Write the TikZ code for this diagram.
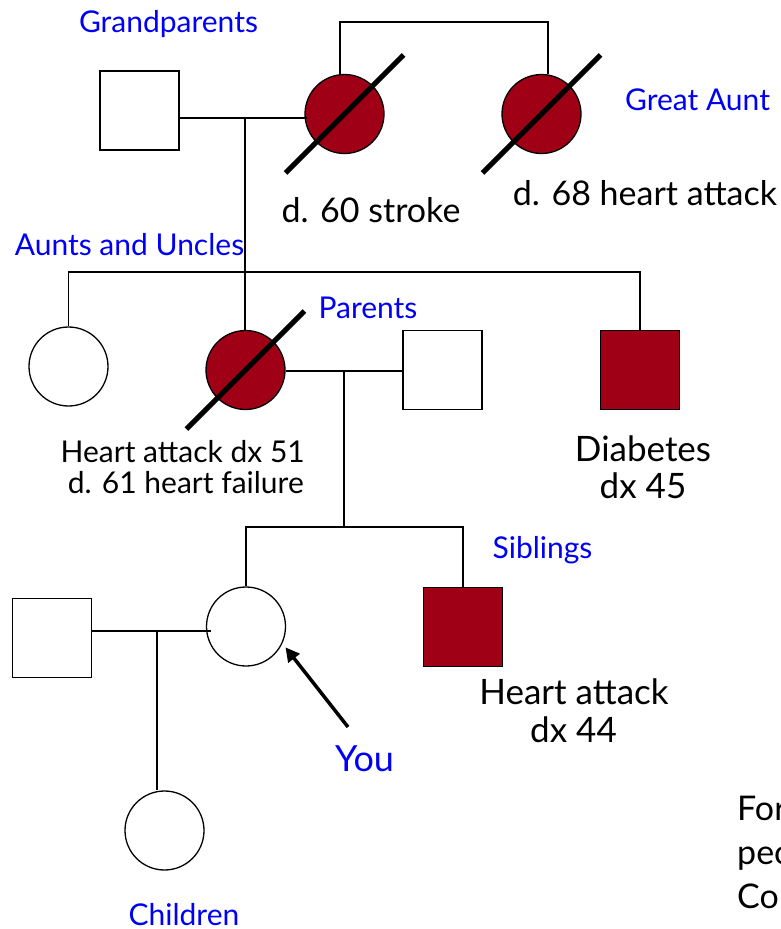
\documentclass[tikz,border=0pt]{standalone}
\usepackage{fontspec}
\setmainfont{Lato}
\usetikzlibrary{arrows.meta}
\definecolor{affected}{RGB}{160,0,22}
\definecolor{tagblue}{RGB}{0,0,245}
\newcommand{\fs}[1]{\fontsize{#1}{#1}\selectfont}
\begin{document}
\begin{tikzpicture}[x=1pt,y=-1pt,
  person/.style={draw=black,line width=1.3pt,inner sep=0pt,minimum size=79pt},
  male/.style={person,rectangle,fill=white},
  female/.style={person,circle,fill=white},
  sick/.style={fill=affected},
  link/.style={draw=black,line width=1.6pt},
  slash/.style={draw=black,line width=5pt},
  tag/.style={text=tagblue,font=\fs{30},anchor=base,inner sep=0pt},
  note/.style={text=black,font=\fs{34},anchor=base,inner sep=0pt},
  smallnote/.style={text=black,font=\fs{30},inner sep=0pt},
  pointer/.style={draw=black,line width=3.5pt,-{Triangle[length=14pt,width=14pt]}}]
\useasboundingbox (0,0) rectangle (781,929);
\clip (0,0) rectangle (781,929);

% generation I
\node[male] (gf) at (139.5,110.5) {};
\node[female,sick] (gm) at (344.5,114) {};
\node[female,sick] (ga) at (541.5,114) {};
% generation II
\node[female] (aunt) at (68.5,366.5) {};
\node[female,sick] (mom) at (245.5,370) {};
\node[male] (dad) at (442.5,370) {};
\node[male,sick] (uncle) at (640,370) {};
% generation III
\node[male] (spouse) at (52,638) {};
\node[female] (you) at (246,626.5) {};
\node[male,sick] (sib) at (463,627) {};
% generation IV
\node[female] (child) at (164.5,830.5) {};

% sibship of grandmother and great aunt
\coordinate (s1) at (340,22);
\coordinate (s2) at (548,22);
\draw[link] (s1|-gm.north) -- (s1) -- (s2) -- (s2|-ga.north);

% grandparents' union and their descent line
\coordinate (m1) at (245,118);
\draw[link] (gf.east|-m1) -- ([xshift=3pt]gm.west|-m1);
\draw[link] (m1) -- (m1|-mom.north);

% sibship of aunt, mother and uncle
\coordinate (a1) at (68,272);
\draw[link] (aunt.north) -- (aunt.north|-a1) -- (uncle.north|-a1) -- (uncle.north);

% parents' union and their descent line
\coordinate (m2) at (344,371);
\coordinate (m3) at (344,527);
\draw[link] (mom.east|-m2) -- (dad.west|-m2);
\draw[link] (m2) -- (m3);
\draw[link] (you.north) -- (you.north|-m3) -- (sib.north|-m3) -- (sib.north);

% own union and descent line
\coordinate (m4) at (157,631);
\draw[link] (spouse.east|-m4) -- ([xshift=5pt]you.west|-m4);
\draw[link] (m4) -- (m4|-child.north);

% deceased marks
\foreach \n in {gm,ga,mom}
  \draw[slash] ([shift={(-59,59)}]\n.center) -- ([shift={(59,-59)}]\n.center);

% pointer to the proband
\coordinate (yt) at (348,727);
\draw[pointer] (yt) -- ([shift={(4,2)}]you.-28);

% generation labels
\node[tag] (tgp) at (168.5,32) {Grandparents};
\node[tag] (tga) at (697.5,110) {Great Aunt};
\node[tag] (tau) at (129.5,255) {Aunts and Uncles};
\node[tag] (tpa) at (368,318) {Parents};
\node[tag] (tsi) at (542.5,558) {Siblings};
\node[tag,font=\fs{36}] (tyo) at (364.5,771) {You};
\node[tag] (tch) at (184,925) {Children};

% history notes
\node[note] (ngm) at (371,222) {d. 60 stroke};
\node[note] (nga) at (645,205) {d. 68 heart attack};
\node[smallnote,anchor=base east] (nmo1) at (305,462) {Heart attack dx 51};
\node[smallnote,anchor=base east] (nmo2) at (304,493) {d. 61 heart failure};
\node[note,font=\fs{35}] (nun1) at (643,461) {Diabetes};
\node[note,font=\fs{35}] (nun2) at (643,498) {dx 45};
\node[note,font=\fs{35}] (nsi1) at (574,704) {Heart attack};
\node[note,font=\fs{35}] (nsi2) at (573.5,742) {dx 44};

% side text running off the right edge
\node[note,anchor=base west] (f1) at (737,820) {For};
\node[note,anchor=base west] (f2) at (737,864) {peo};
\node[note,anchor=base west] (f3) at (737,908) {Co};
\end{tikzpicture}
\end{document}
